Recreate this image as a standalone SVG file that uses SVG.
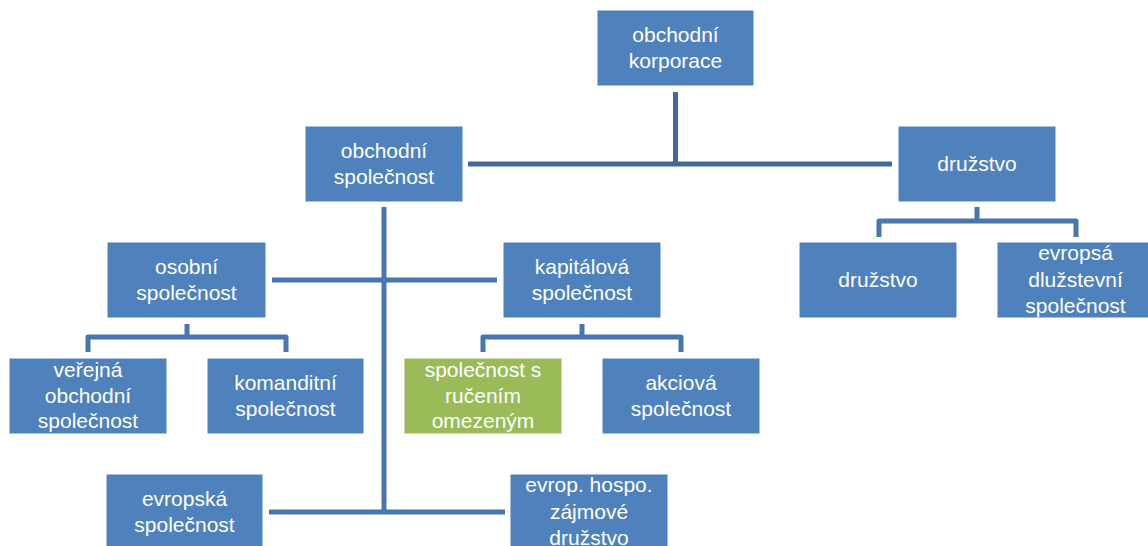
<svg xmlns="http://www.w3.org/2000/svg" width="1148" height="546" viewBox="0 0 1148 546">
<style>
  .box { fill: #4F81BD; stroke: #ffffff; stroke-width: 1; }
  .green { fill: #9BBB59; stroke: #ffffff; stroke-width: 1; }
  .t { font-family: "Liberation Sans", Arial, sans-serif; font-size: 21px; fill: #ffffff; text-anchor: middle; }
  .c1 { fill: none; stroke: #41699B; stroke-width: 5; stroke-linejoin: round; }
  .c2 { fill: none; stroke: #4876B0; stroke-width: 5; stroke-linejoin: round; }
</style>
<rect width="1148" height="546" fill="#ffffff"/>
<g id="connectors">
  <path class="c1" d="M675.5 92 V164 M468 164 H892"/>
  <path class="c2" d="M384 207 V512 M269 512 H505"/>
  <path class="c2" d="M272 280 H497"/>
  <path class="c2" d="M187 324 V337 M88 352 V337 H286 V352"/>
  <path class="c2" d="M582 324 V337 M483 352 V337 H681 V352"/>
  <path class="c2" d="M977 207 V221 M879 237 V221 H1076 V237"/>
</g>
<g id="obchodni-korporace">
  <rect class="box" x="597" y="10" width="157" height="76"/>
  <text class="t" x="675.5" y="42">obchodní</text>
  <text class="t" x="675.5" y="68">korporace</text>
</g>
<g id="obchodni-spolecnost">
  <rect class="box" x="305" y="126" width="158" height="76"/>
  <text class="t" x="384" y="158">obchodní</text>
  <text class="t" x="384" y="184">společnost</text>
</g>
<g id="druzstvo">
  <rect class="box" x="898" y="126" width="158" height="76"/>
  <text class="t" x="977" y="171">družstvo</text>
</g>
<g id="osobni-spolecnost">
  <rect class="box" x="107" y="242" width="159" height="76"/>
  <text class="t" x="186.5" y="274">osobní</text>
  <text class="t" x="186.5" y="300">společnost</text>
</g>
<g id="kapitalova-spolecnost">
  <rect class="box" x="503" y="242" width="158" height="76"/>
  <text class="t" x="582" y="274">kapitálová</text>
  <text class="t" x="582" y="300">společnost</text>
</g>
<g id="druzstvo-2">
  <rect class="box" x="799" y="242" width="158" height="76"/>
  <text class="t" x="878" y="287">družstvo</text>
</g>
<g id="evropsa-dluzstevni-spolecnost">
  <rect class="box" x="997" y="242" width="157" height="76"/>
  <text class="t" x="1075.5" y="260">evropsá</text>
  <text class="t" x="1075.5" y="287">dlužstevní</text>
  <text class="t" x="1075.5" y="313">společnost</text>
</g>
<g id="verejna-obchodni-spolecnost">
  <rect class="box" x="9" y="358" width="158" height="76"/>
  <text class="t" x="88" y="377">veřejná</text>
  <text class="t" x="88" y="403">obchodní</text>
  <text class="t" x="88" y="428">společnost</text>
</g>
<g id="komanditni-spolecnost">
  <rect class="box" x="207" y="358" width="157" height="76"/>
  <text class="t" x="285.5" y="390">komanditní</text>
  <text class="t" x="285.5" y="416">společnost</text>
</g>
<g id="spolecnost-s-rucenim-omezenym">
  <rect class="green" x="404" y="358" width="158" height="76"/>
  <text class="t" x="483" y="377">společnost s</text>
  <text class="t" x="483" y="403">ručením</text>
  <text class="t" x="483" y="428">omezeným</text>
</g>
<g id="akciova-spolecnost">
  <rect class="box" x="602" y="358" width="158" height="76"/>
  <text class="t" x="681" y="390">akciová</text>
  <text class="t" x="681" y="416">společnost</text>
</g>
<g id="evropska-spolecnost">
  <rect class="box" x="106" y="474" width="157" height="76"/>
  <text class="t" x="184.5" y="506">evropská</text>
  <text class="t" x="184.5" y="532">společnost</text>
</g>
<g id="evrop-hospo-zajmove-druzstvo">
  <rect class="box" x="510" y="474" width="158" height="76"/>
  <text class="t" x="589" y="492">evrop. hospo.</text>
  <text class="t" x="589" y="519">zájmové</text>
  <text class="t" x="589" y="545">družstvo</text>
</g>
</svg>
